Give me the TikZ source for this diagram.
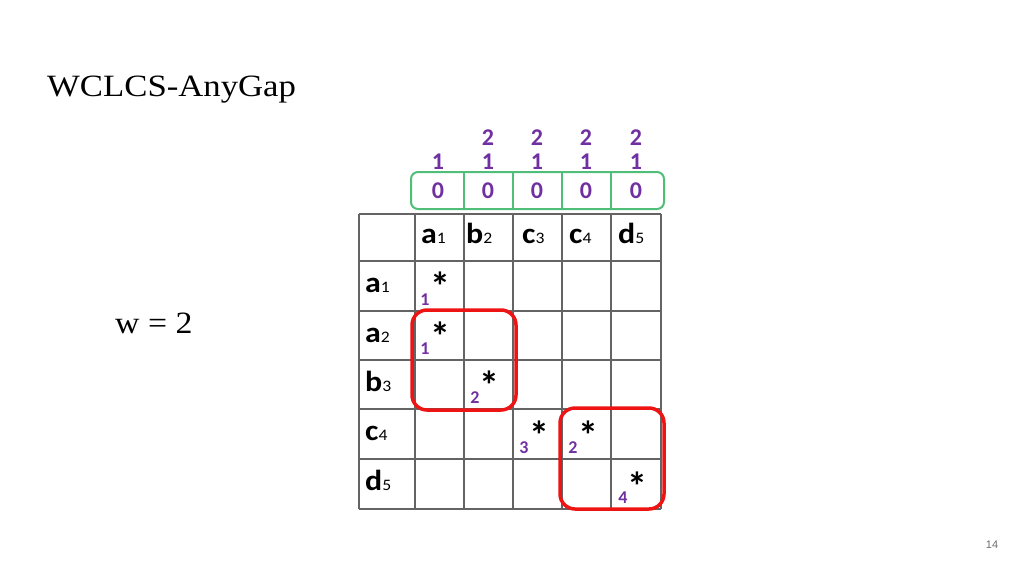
\documentclass[tikz,border=0pt]{standalone}
\usepackage{fontspec}
\setmainfont{Liberation Serif}
\newfontfamily\calfont{Carlito}
\newfontfamily\pgfont{Liberation Sans}
\definecolor{gridc}{RGB}{100,100,100}
\definecolor{purp}{RGB}{112,48,160}
\definecolor{grn}{RGB}{80,190,120}
\definecolor{redb}{RGB}{238,20,20}
\definecolor{pgc}{RGB}{110,110,110}
\newcommand{\lab}[2]{\scalebox{1.1}[1]{#1{\fontsize{16}{16}\selectfont\mdseries #2}}}
\begin{document}
\begin{tikzpicture}[x=1pt,y=-1pt,
  lbl/.style={anchor=base west, inner sep=0, font=\calfont\bfseries\fontsize{29}{29}\selectfont},
  star/.style={anchor=north, inner sep=0, font=\calfont\bfseries\fontsize{40}{40}\selectfont},
  pn/.style={inner sep=0, text=purp, font=\calfont\bfseries\fontsize{18}{18}\selectfont},
  tn/.style={inner sep=0, text=purp, font=\calfont\bfseries\fontsize{24}{24}\selectfont},
  gridline/.style={draw=gridc, line width=1.3pt},
  redbox/.style={draw=redb, line width=3.5pt, rounded corners=15pt},
  grnbox/.style={draw=grn, line width=2pt}]
\useasboundingbox (0,0) rectangle (1024,576);
% title
\node[anchor=base west, inner sep=0, font=\fontsize{31}{31}\selectfont] (title) at (47,96) {\scalebox{1.12}[1]{WCLCS-AnyGap}};
\node[anchor=base west, inner sep=0, font=\fontsize{31}{31}\selectfont] (w) at (115,333) {\scalebox{1.09}[1]{w = 2}};
\node[inner sep=0, text=pgc, font=\pgfont\fontsize{11}{11}\selectfont] (page) at (992,544.5) {14};
% grid
\foreach \x in {359,415,464,513,562,611,661} \draw[gridline] (\x,214) -- (\x,509);
\foreach \y in {214,261,311,360,409,459,509} \draw[gridline] (359,\y) -- (661,\y);
% green box
\draw[grnbox, rounded corners=7pt] (411,172) rectangle (664,209);
\foreach \x in {464,513,562,611} \draw[grnbox] (\x,172) -- (\x,209);
\foreach \x [count=\i] in {438,488,537,586,636} \node[tn] (z\i) at (\x,191) {0};
\node[tn] (o1) at (438,162) {1};
\foreach \x [count=\i from 2] in {488,537,586,636} {
  \node[tn] (o\i) at (\x,162) {1};
  \node[tn] (t\i) at (\x,138) {2};
}
% header labels
\node[lbl] (ha) at (421,243) {\lab{a}{1}};
\node[lbl] (hb) at (466,243) {\lab{b}{2}};
\node[lbl] (hc3) at (522,243) {\lab{c}{3}};
\node[lbl] (hc4) at (569,243) {\lab{c}{4}};
\node[lbl] (hd) at (618,243) {\lab{d}{5}};
% row labels
\node[lbl] (ra1) at (365,292) {\lab{a}{1}};
\node[lbl] (ra2) at (365,342) {\lab{a}{2}};
\node[lbl] (rb3) at (365,391) {\lab{b}{3}};
\node[lbl] (rc4) at (365,440) {\lab{c}{4}};
\node[lbl] (rd5) at (365,490) {\lab{d}{5}};
% stars
\node[star] (s1) at (440,272) {*};
\node[star] (s2) at (440,322) {*};
\node[star] (s3) at (489,371) {*};
\node[star] (s4) at (539,421) {*};
\node[star] (s5) at (588,421) {*};
\node[star] (s6) at (637,472) {*};
% purple counts
\node[pn] (n1) at (425,300) {1};
\node[pn] (n2) at (425,349) {1};
\node[pn] (n3) at (475,398) {2};
\node[pn] (n4) at (524,448) {3};
\node[pn] (n5) at (573,448) {2};
\node[pn] (n6) at (623,498) {4};
% red boxes
\draw[redbox] (412,310) rectangle (516,410);
\draw[redbox] (560,408) rectangle (664,509);
\end{tikzpicture}
\end{document}
